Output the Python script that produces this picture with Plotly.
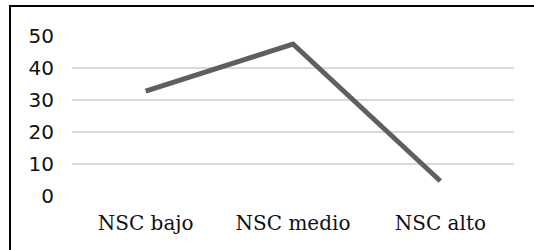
import plotly.graph_objects as go

categories = ["NSC bajo", "NSC medio", "NSC alto"]
values = [32.8, 47.5, 4.7]
y_ticks = [0, 10, 20, 30, 40, 50]

W, H = 534, 250
ml, mr, mt, mb = 72, 20, 36, 54
pw, ph = W - ml - mr, H - mt - mb

fig = go.Figure(go.Scatter(
    x=categories, y=values, mode="lines",
    line=dict(color="#5f5f5f", width=5),
    hoverinfo="skip",
))

def px_to_paper_x(px):
    return (px - ml) / pw

def px_to_paper_y(py):
    return (H - mb - py) / ph

fig.update_layout(
    width=W, height=H,
    margin=dict(l=ml, r=mr, t=mt, b=mb, autoexpand=False),
    paper_bgcolor="white", plot_bgcolor="white",
    showlegend=False,
    xaxis=dict(
        type="category", range=[-0.5, 2.5], showgrid=False, showline=False,
        zeroline=False, ticks="",
        tickfont=dict(family="DejaVu Serif", size=20, color="#111111"),
        ticklabelstandoff=13,
    ),
    yaxis=dict(
        range=[0, 50], tickvals=y_ticks, showgrid=True, gridcolor="#d9d9d9",
        gridwidth=1.5, showline=False, zeroline=False, ticks="",
        tickfont=dict(family="DejaVu Sans", size=20, color="#111111"),
        ticklabelstandoff=17,
    ),
    shapes=[
        dict(type="rect", xref="paper", yref="paper", layer="above",
             x0=px_to_paper_x(528), x1=px_to_paper_x(540),
             y0=px_to_paper_y(8), y1=px_to_paper_y(260),
             fillcolor="white", line=dict(width=0)),
        dict(type="line", xref="paper", yref="paper",
             x0=px_to_paper_x(9), x1=px_to_paper_x(534),
             y0=px_to_paper_y(6), y1=px_to_paper_y(6),
             line=dict(color="black", width=2)),
        dict(type="line", xref="paper", yref="paper",
             x0=px_to_paper_x(10), x1=px_to_paper_x(10),
             y0=px_to_paper_y(5), y1=px_to_paper_y(250),
             line=dict(color="black", width=2)),
    ],
)

fig.write_html(
    "out.html",
    config={"displayModeBar": False, "staticPlot": True},
    post_script=(
        "document.documentElement.style.overflow='hidden';"
        "document.body.style.margin='0';"
        "document.body.style.padding='0';"
        "document.body.style.overflow='hidden';"
    ),
)
